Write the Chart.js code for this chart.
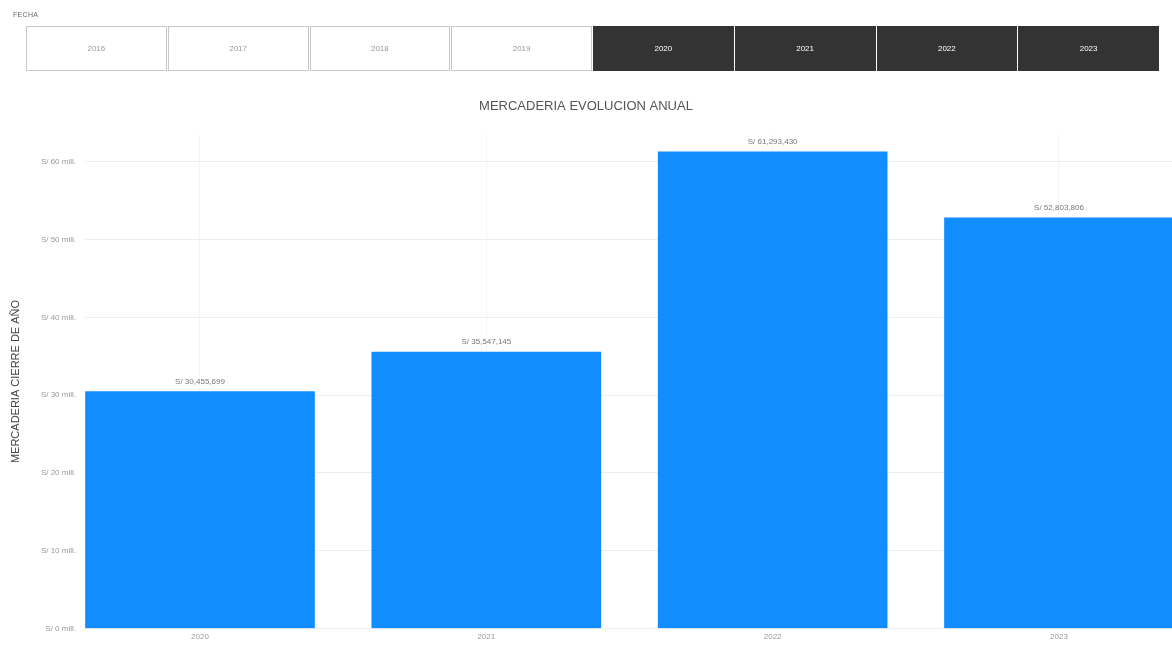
<!DOCTYPE html>
<html>
<head>
<meta charset="utf-8">
<script src="https://cdn.jsdelivr.net/npm/chart.js@4.4.1/dist/chart.umd.min.js"></script>
<style>
  html, body { margin: 0; padding: 0; background: #fff; overflow: hidden; }
  body { width: 1172px; height: 648px; position: relative; font-family: "Liberation Sans", Arial, sans-serif; }
  #wrap { position: absolute; left: 0; top: 0; width: 1172px; height: 648px; }
  #slicerLabel { position: absolute; left: 13px; top: 11px; font-size: 7px; color: #666; letter-spacing: 0.3px; }
  #slicer { position: absolute; left: 26px; top: 26px; width: 1133px; height: 45px; display: flex; gap: 1px; }
  .btn { flex: 1; display: flex; align-items: center; justify-content: center; font-size: 8px; box-sizing: border-box; }
  .btn.off { background: #fff; color: #999; border: 1px solid #c8c8c8; }
  .btn.on { background: #333; color: #fff; border: 1px solid #333; }
</style>
</head>
<body>
<div id="wrap"><canvas id="c" width="1172" height="648"></canvas></div>
<div id="slicerLabel">FECHA</div>
<div id="slicer"></div>
<script>
// Year slicer
const slicerYears = ['2016', '2017', '2018', '2019', '2020', '2021', '2022', '2023'];
const selectedYears = ['2020', '2021', '2022', '2023'];

// Year-end merchandise value (S/)
const years = ['2020', '2021', '2022', '2023'];
const values = [30455699, 35547145, 61293430, 52803806];

const slicer = document.getElementById('slicer');
slicerYears.forEach(y => {
  const d = document.createElement('div');
  d.className = 'btn ' + (selectedYears.includes(y) ? 'on' : 'off');
  d.textContent = y;
  slicer.appendChild(d);
});

const fmtValue = v => 'S/ ' + v.toLocaleString('en-US');
const fmtTick = v => 'S/ ' + Math.round(v / 1e6) + ' mill.';

// Value labels above each bar
const valueLabels = {
  id: 'valueLabels',
  afterDatasetsDraw(chart) {
    const ctx = chart.ctx;
    const meta = chart.getDatasetMeta(0);
    ctx.save();
    ctx.font = '8px "Liberation Sans", Arial, sans-serif';
    ctx.fillStyle = '#777';
    ctx.textAlign = 'center';
    ctx.textBaseline = 'bottom';
    meta.data.forEach((bar, i) => {
      ctx.fillText(fmtValue(values[i]), bar.x, bar.y - 6);
    });
    ctx.restore();
  }
};

new Chart(document.getElementById('c'), {
  type: 'bar',
  data: {
    datasets: [{
      data: years.map((y, i) => ({ x: i, y: values[i] })),
      backgroundColor: '#118DFF',
      borderWidth: 0,
      barThickness: 229
    }]
  },
  options: {
    responsive: false,
    animation: false,
    layout: { padding: { left: 0, right: 0, top: 0, bottom: 2 } },
    plugins: {
      legend: { display: false },
      tooltip: { enabled: false },
      title: {
        display: true,
        text: 'MERCADERIA EVOLUCION ANUAL',
        color: '#555',
        font: { family: '"Liberation Sans", Arial, sans-serif', size: 13, weight: 'normal' },
        padding: { top: 99, bottom: 20 }
      }
    },
    scales: {
      x: {
        type: 'linear',
        offset: false,
        min: -0.4016,
        max: 3.3947,
        afterBuildTicks(scale) { scale.ticks = years.map((y, i) => ({ value: i })); },
        ticks: {
          callback: v => years[v],
          color: '#999',
          font: { family: '"Liberation Sans", Arial, sans-serif', size: 8 },
          padding: 4,
          maxRotation: 0
        },
        grid: { display: true, offset: false, color: '#f5f5f5', drawTicks: false },
        border: { display: false }
      },
      y: {
        min: 0,
        max: 63500000,
        afterBuildTicks(scale) {
          scale.ticks = [0, 1, 2, 3, 4, 5, 6].map(k => ({ value: k * 10000000 }));
        },
        afterFit(scale) { scale.width = 85; },
        ticks: {
          callback: v => fmtTick(v),
          color: '#999',
          font: { family: '"Liberation Sans", Arial, sans-serif', size: 8 },
          padding: 9
        },
        grid: { color: '#eeeeee', drawTicks: false },
        border: { display: false },
        title: {
          display: true,
          text: 'MERCADERIA CIERRE DE AÑO',
          color: '#444',
          font: { family: '"Liberation Sans", Arial, sans-serif', size: 11 },
          padding: { top: 9, bottom: 2 }
        }
      }
    }
  },
  plugins: [valueLabels]
});
</script>
</body>
</html>
